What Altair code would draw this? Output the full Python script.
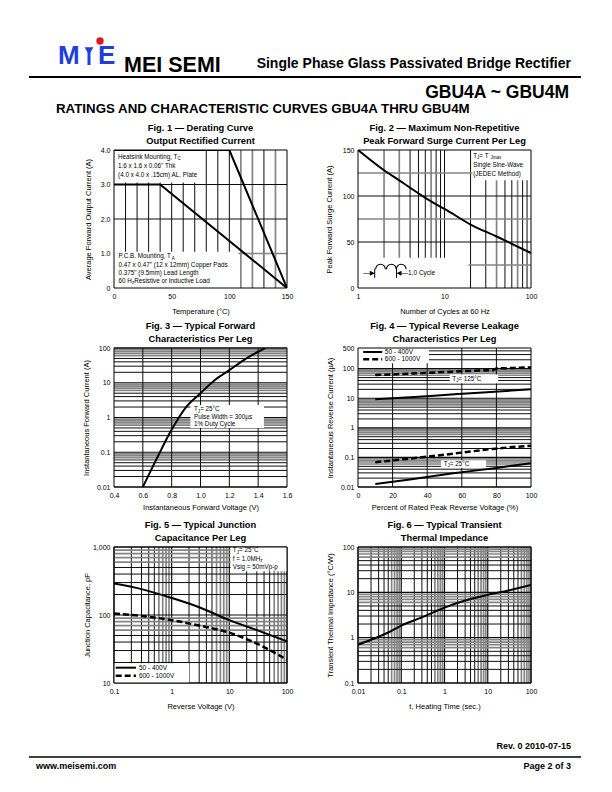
import altair as alt
import pandas as pd

FONT = "Liberation Sans, Arial, Helvetica, DejaVu Sans, sans-serif"
DARK = "#0d0d0d"
GREY = "#858585"
W_DARK = 1.0
W_GREY = 1.7
W_MAJOR = 1.2
BLUE = "#1f3fd8"
RED = "#e3161e"
ANN = 6.3

# ---------------- data ----------------
# Fig. 1 derating curve
f1_hs_temp = [0, 100, 150]
f1_hs_curr = [4.0, 4.0, 0.0]
f1_pcb_temp = [0, 40, 150]
f1_pcb_curr = [3.0, 3.0, 0.0]
f1_xlabels = [0, 50, 100, 150]
f1_ylabels = [0, 1, 2, 3, 4]
f1_vgrid_dark = [10, 20, 30, 40, 50, 60, 70, 80, 90, 100, 130]
f1_vgrid_grey = [110, 120, 140]
f1_hgrid_dark = [2, 3]
f1_hgrid_grey = [1]
f1_boxes = [(0, 78, 3.06, 4.0), (0, 108, 0, 1.05)]

# Fig. 2 surge current
f2_cycles = [1, 2, 3, 4, 6, 8, 10, 20, 40, 60, 100]
f2_surge = [150, 128, 117, 109, 98, 91, 86, 69, 56, 48, 38]
f2_xlabels = [1, 10, 100]
f2_ylabels = [0, 50, 100, 150]
f2_vgrid_dark = [4, 5, 6, 8, 9, 10, 20, 30, 50, 60, 80, 90]
f2_vgrid_grey = [2, 3, 7, 40, 70]
f2_hgrid_dark = [50, 100]
f2_hgrid_grey = [25, 75, 125]
f2_boxes = [(21, 100, 117, 150), (1, 19, 0, 33)]
f2_humps = [1.82, 2.43, 3.16]

# Fig. 3 forward characteristics
f3_volt = [0.6, 0.7, 0.8, 0.9, 1.0, 1.1, 1.2, 1.3, 1.4, 1.45]
f3_curr = [0.01, 0.07, 0.45, 2.0, 5.0, 12, 23, 45, 78, 100]
f3_xlabels = [0.4, 0.6, 0.8, 1.0, 1.2, 1.4, 1.6]
f3_ylabels = [0.01, 0.1, 1, 10, 100]
f3_vgrid_dark = [0.6, 0.8, 1.0, 1.2, 1.4]
f3_boxes = [(0.93, 1.44, 0.5, 2.3)]

# Fig. 4 reverse leakage
f4_pct_125_hi = [10, 20, 30, 40, 50, 60, 70, 78, 80, 90, 100]
f4_ir_125_hi = [61, 64, 68, 72, 77, 82, 86, 89, 102, 106, 110]
f4_pct_125_lo = [10, 40, 70, 100]
f4_ir_125_lo = [9.2, 11.8, 15.4, 20]
f4_pct_25_hi = [10, 28, 55, 78, 100]
f4_ir_25_hi = [0.069, 0.089, 0.134, 0.194, 0.25]
f4_pct_25_lo = [10, 30, 55, 80, 100]
f4_ir_25_lo = [0.0127, 0.018, 0.029, 0.044, 0.064]
f4_xlabels = [0, 20, 40, 60, 80, 100]
f4_ylabels = [0.01, 0.1, 1, 10, 100, 500]
f4_vgrid_dark = [20, 40, 60, 80]
f4_boxes = [(0, 41, 152, 500), (53, 81, 32, 64), (48, 74, 0.045, 0.08)]

# Fig. 5 junction capacitance
f5_volt = [0.1, 0.3, 1, 3, 10, 30, 100]
f5_cap_lo = [290, 240, 178, 130, 84, 60, 41]
f5_cap_hi = [105, 97, 84, 70, 55, 38, 22]
f5_xlabels = [0.1, 1, 10, 100]
f5_ylabels = [10, 100, 1000]
f5_boxes = [(10.5, 100, 440, 1000), (0.1, 2.0, 10, 19.5)]

# Fig. 6 transient thermal impedance
f6_time = [0.01, 0.02, 0.05, 0.1, 0.3, 1, 3, 10, 30, 100]
f6_zth = [0.7, 0.9, 1.3, 1.85, 2.8, 4.6, 6.6, 8.8, 11, 14.5]
f6_xlabels = [0.01, 0.1, 1, 10, 100]
f6_ylabels = [0.1, 1, 10, 100]

MINOR_DARK = [2, 3, 4, 5]
MINOR_GREY = [6, 7, 8, 9]

W = 173
H1, H2, H3 = 138, 139, 136

# Arial / Liberation Sans advance widths (per 1000 em)
CW = {" ": 278, "!": 278, '"': 355, "%": 889, "(": 333, ")": 333, ".": 278, ",": 278,
      "-": 333, "=": 584, "~": 584, "°": 400, "µ": 576, "/": 278}
for c in "0123456789":
    CW[c] = 556
CW.update(dict(zip("ABCDEFGHIJKLMNOPQRSTUVWXYZ",
                   [667, 667, 722, 722, 667, 611, 778, 722, 278, 500, 667, 556, 833,
                    722, 778, 667, 778, 722, 667, 611, 722, 667, 944, 667, 667, 611])))
CW.update(dict(zip("abcdefghijklmnopqrstuvwxyz",
                   [556, 556, 500, 556, 556, 278, 556, 556, 222, 222, 500, 222, 833,
                    556, 556, 556, 556, 333, 500, 278, 556, 500, 722, 500, 500, 500])))


def tw(s, size):
    return sum(CW.get(c, 556) for c in s) * size / 1000.0


def minors(e0, e1, ks, top=None):
    out = [k * 10.0 ** e for e in range(e0, e1) for k in ks]
    if top is not None:
        out = [v for v in out if v < top]
    return out


def decades(e0, e1):
    return [10.0 ** e for e in range(e0, e1 + 1)]


class Frame:
    """Scales and axes shared by every layer of one panel."""

    def __init__(self, xs, ys, xaxis, yaxis):
        self.xs, self.ys, self.xaxis, self.yaxis = xs, ys, xaxis, yaxis

    def X(self, field):
        return alt.X(field, scale=self.xs, axis=self.xaxis)

    def Y(self, field):
        return alt.Y(field, scale=self.ys, axis=self.yaxis)


def vrule(vals, f, color, width):
    return alt.Chart(pd.DataFrame({"v": vals})).mark_rule(color=color, strokeWidth=width).encode(
        x=f.X("v:Q"))


def hrule(vals, f, color, width):
    return alt.Chart(pd.DataFrame({"v": vals})).mark_rule(color=color, strokeWidth=width).encode(
        y=f.Y("v:Q"))


def rects(rows, f):
    df = pd.DataFrame(rows, columns=["x1", "x2", "y1", "y2"])
    return alt.Chart(df).mark_rect(color="white", opacity=1).encode(
        x=f.X("x1:Q"), x2="x2:Q", y=f.Y("y1:Q"), y2="y2:Q")


def curve(xv, yv, f, dash=None, width=2.0, interp="monotone"):
    kw = dict(color="black", strokeWidth=width, clip=True, interpolate=interp)
    if dash is not None:
        kw["strokeDash"] = dash
    return alt.Chart(pd.DataFrame({"x": xv, "y": yv})).mark_line(**kw).encode(
        x=f.X("x:Q"), y=f.Y("y:Q"))


def seg(x1, x2, y, f, dash=None, width=2.0):
    kw = dict(color="black", strokeWidth=width)
    if dash is not None:
        kw["strokeDash"] = dash
    return alt.Chart(pd.DataFrame({"x1": [x1], "x2": [x2], "y": [y]})).mark_rule(**kw).encode(
        x=f.X("x1:Q"), x2="x2:Q", y=f.Y("y:Q"))


def vseg(x, y1, y2, f, width=1.0):
    return alt.Chart(pd.DataFrame({"x": [x], "y1": [y1], "y2": [y2]})).mark_rule(
        color="black", strokeWidth=width).encode(x=f.X("x:Q"), y=f.Y("y1:Q"), y2="y2:Q")


def rich(f, x, y, segs, size=ANN, align="left"):
    out = []
    dx = 0.0
    df = pd.DataFrame({"x": [x], "y": [y]})
    for t, sub in segs:
        fs = size * 0.72 if sub else size
        dy = size * 0.38 if sub else 0
        out.append(alt.Chart(df).mark_text(text=t, fontSize=fs, dx=dx, dy=dy, align=align,
                                           baseline="middle", font=FONT, color="black").encode(
            x=f.X("x:Q"), y=f.Y("y:Q")))
        dx += tw(t, fs)
    return out


def ax_x(values, title, expr, title_y=23):
    return alt.Axis(values=values, title=title, labelExpr=expr, titleY=title_y,
                    titleBaseline="middle", labelFlush=False, labelOverlap=False, grid=False,
                    ticks=False, domain=False, labelPadding=4, labelFontSize=7,
                    titleFontSize=7.5, titleFontWeight="normal", labelColor="black",
                    titleColor="black", labelFont=FONT, titleFont=FONT)


def ax_y(values, title, expr, title_x, h):
    return alt.Axis(values=values, title=title, labelExpr=expr, titleX=title_x, titleY=h / 2,
                    titleBaseline="middle", titleAlign="center", labelFlush=False,
                    labelOverlap=False, grid=False, ticks=False, domain=False, labelPadding=4,
                    labelFontSize=7, titleFontSize=7.5, titleFontWeight="normal",
                    labelColor="black", titleColor="black", labelFont=FONT, titleFont=FONT)


def border(f, xdom, ydom):
    return [vrule(xdom, f, "black", 1.0), hrule(ydom, f, "black", 1.0)]


def ttl(l1, l2):
    return alt.TitleParams(text=[l1, l2], font=FONT, fontSize=9.3, fontWeight="bold",
                           color="black", anchor="middle", offset=0, lineHeight=12.5)


def lin(dom):
    return alt.Scale(type="linear", domain=dom, nice=False, zero=False)


def logs(dom):
    return alt.Scale(type="log", domain=dom, nice=False)


LBL = "'' + datum.value"
DASH = [6, 3]

# ---------------- Fig. 1 ----------------
d1x, d1y = [0, 150], [0, 4]
F1 = Frame(lin(d1x), lin(d1y),
           ax_x(f1_xlabels, "Temperature (°C)", LBL),
           ax_y(f1_ylabels, "Average Forward Output Current (A)",
                "datum.value == 0 ? '0' : format(datum.value, '.1f')", -26, H1))
p1 = alt.layer(
    vrule(f1_vgrid_grey, F1, GREY, W_GREY),
    vrule(f1_vgrid_dark, F1, DARK, W_DARK),
    hrule(f1_hgrid_grey, F1, GREY, W_GREY),
    hrule(f1_hgrid_dark, F1, DARK, W_DARK),
    rects(f1_boxes, F1),
    curve(f1_hs_temp, f1_hs_curr, F1, interp="linear"),
    curve(f1_pcb_temp, f1_pcb_curr, F1, interp="linear"),
    *rich(F1, 3.5, 3.80, [("Heatsink Mounting, T", 0), ("C", 1)]),
    *rich(F1, 3.5, 3.54, [('1.6 x 1.6 x 0.06" Thk', 0)]),
    *rich(F1, 3.5, 3.28, [("(4.0 x 4.0 x .15cm) AL. Plate", 0)]),
    *rich(F1, 4, 0.92, [("P.C.B. Mounting, T", 0), ("A", 1)]),
    *rich(F1, 4, 0.66, [('0.47 x 0.47" (12 x 12mm) Copper Pads', 0)]),
    *rich(F1, 4, 0.43, [('0.375" (9.5mm) Lead Length', 0)]),
    *rich(F1, 4, 0.20, [("60 H", 0), ("z", 1), (" Resistive or Inductive Load", 0)]),
    *border(F1, d1x, d1y),
).properties(width=W, height=H1, title=ttl("Fig. 1 — Derating Curve", "Output Rectified Current"))

# ---------------- Fig. 2 ----------------
d2x, d2y = [1, 100], [0, 150]
F2 = Frame(logs(d2x), lin(d2y),
           ax_x(f2_xlabels, "Number of Cycles at 60 Hz", LBL),
           ax_y(f2_ylabels, "Peak Forward Surge Current (A)", LBL, -29, H1))
hump_df = pd.DataFrame({"x": f2_humps, "y": [20.5] * len(f2_humps)})
humps = alt.Chart(hump_df).mark_arc(color="black").encode(
    x=F2.X("x:Q"), y=F2.Y("y:Q"),
    theta=alt.value(4.712), theta2=alt.value(7.854),
    radius=alt.value(5.4), radius2=alt.value(4.3))
p2 = alt.layer(
    vrule(f2_vgrid_grey, F2, GREY, W_GREY),
    vrule(f2_vgrid_dark, F2, DARK, W_DARK),
    hrule(f2_hgrid_grey, F2, GREY, W_GREY),
    hrule(f2_hgrid_dark, F2, DARK, W_DARK),
    rects(f2_boxes, F2),
    curve(f2_cycles, f2_surge, F2),
    *rich(F2, 21.5, 144, [("T", 0), ("J", 1), (" = T", 0), ("Jmax", 1)]),
    *rich(F2, 21.5, 134, [("Single Sine-Wave", 0)]),
    *rich(F2, 21.5, 124, [("(JEDEC Method)", 0)]),
    humps,
    vseg(1.56, 11, 21, F2),
    vseg(2.79, 11, 21, F2),
    *rich(F2, 1.56, 16, [("—▶", 0)], size=6.5, align="right"),
    *rich(F2, 2.79, 16, [("◀—1.0 Cycle", 0)], size=6.5),
    *border(F2, d2x, d2y),
).properties(width=W, height=H1,
             title=ttl("Fig. 2 — Maximum Non-Repetitive", "Peak Forward Surge Current Per Leg"))

# ---------------- Fig. 3 ----------------
d3x, d3y = [0.4, 1.6], [0.01, 100]
F3 = Frame(lin(d3x), logs(d3y),
           ax_x(f3_xlabels, "Instantaneous Forward Voltage (V)", "format(datum.value, '.1f')", 20),
           ax_y(f3_ylabels, "Instantaneous Forward Current (A)", LBL, -28, H2))
p3 = alt.layer(
    hrule(minors(-2, 2, MINOR_GREY), F3, GREY, W_GREY),
    hrule(minors(-2, 2, MINOR_DARK), F3, DARK, W_DARK),
    hrule(decades(-2, 2), F3, DARK, W_MAJOR),
    vrule(f3_vgrid_dark, F3, DARK, W_DARK),
    rects(f3_boxes, F3),
    curve(f3_volt, f3_curr, F3),
    *rich(F3, 0.955, 1.72, [("T", 0), ("J", 1), (" = 25°C", 0)]),
    *rich(F3, 0.955, 1.05, [("Pulse Width = 300µs", 0)]),
    *rich(F3, 0.955, 0.65, [("1% Duty Cycle", 0)]),
    *border(F3, d3x, d3y),
).properties(width=W, height=H2, title=ttl("Fig. 3 — Typical Forward", "Characteristics Per Leg"))

# ---------------- Fig. 4 ----------------
d4x, d4y = [0, 100], [0.01, 500]
F4 = Frame(lin(d4x), logs(d4y),
           ax_x(f4_xlabels, "Percent of Rated Peak Reverse Voltage (%)", LBL, 20),
           ax_y(f4_ylabels, "Instantaneous Reverse Current (µA)", LBL, -28, H2))
p4 = alt.layer(
    hrule(minors(-2, 3, MINOR_GREY, top=500), F4, GREY, W_GREY),
    hrule(minors(-2, 3, MINOR_DARK, top=500), F4, DARK, W_DARK),
    hrule(decades(-2, 2), F4, DARK, W_MAJOR),
    vrule(f4_vgrid_dark, F4, DARK, W_DARK),
    rects(f4_boxes, F4),
    curve(f4_pct_125_hi, f4_ir_125_hi, F4, dash=DASH, width=2.5, interp="linear"),
    curve(f4_pct_125_lo, f4_ir_125_lo, F4),
    curve(f4_pct_25_hi, f4_ir_25_hi, F4, dash=DASH, width=2.5),
    curve(f4_pct_25_lo, f4_ir_25_lo, F4),
    seg(3, 14, 366, F4),
    seg(3, 14, 207, F4, dash=DASH, width=2.5),
    *rich(F4, 15.5, 366, [("50 - 400V", 0)], size=6.5),
    *rich(F4, 15.5, 207, [("600 - 1000V", 0)], size=6.5),
    *rich(F4, 54.5, 45, [("T", 0), ("J", 1), (" = 125°C", 0)]),
    *rich(F4, 49.5, 0.06, [("T", 0), ("J", 1), (" = 25°C", 0)]),
    *border(F4, d4x, d4y),
).properties(width=W, height=H2,
             title=ttl("Fig. 4 — Typical Reverse Leakage", "Characteristics Per Leg"))

# ---------------- Fig. 5 ----------------
d5x, d5y = [0.1, 100], [10, 1000]
F5 = Frame(logs(d5x), logs(d5y),
           ax_x(f5_xlabels, "Reverse Voltage (V)", LBL),
           ax_y(f5_ylabels, "Junction Capacitance, pF", "format(datum.value, ',')", -27, H3))
p5 = alt.layer(
    vrule(minors(-1, 2, MINOR_GREY), F5, GREY, W_GREY),
    vrule(minors(-1, 2, MINOR_DARK), F5, DARK, W_DARK),
    vrule(decades(-1, 2), F5, DARK, W_MAJOR),
    hrule(minors(1, 3, MINOR_GREY), F5, GREY, W_GREY),
    hrule(minors(1, 3, MINOR_DARK), F5, DARK, W_DARK),
    hrule(decades(1, 3), F5, DARK, W_MAJOR),
    rects(f5_boxes, F5),
    curve(f5_volt, f5_cap_lo, F5),
    curve(f5_volt, f5_cap_hi, F5, dash=DASH, width=2.5),
    *rich(F5, 11.5, 900, [("T", 0), ("J", 1), (" = 25°C", 0)]),
    *rich(F5, 11.5, 665, [("f = 1.0MH", 0), ("z", 1)]),
    *rich(F5, 11.5, 500, [("Vsig = 50mVp-p", 0)]),
    seg(0.107, 0.24, 16.8, F5),
    seg(0.107, 0.24, 12.8, F5, dash=DASH, width=2.5),
    *rich(F5, 0.27, 16.8, [("50 - 400V", 0)], size=6.5),
    *rich(F5, 0.27, 12.8, [("600 - 1000V", 0)], size=6.5),
    *border(F5, d5x, d5y),
).properties(width=W, height=H3, title=ttl("Fig. 5 — Typical Junction", "Capacitance Per Leg"))

# ---------------- Fig. 6 ----------------
d6x, d6y = [0.01, 100], [0.1, 100]
F6 = Frame(logs(d6x), logs(d6y),
           ax_x(f6_xlabels, "t, Heating Time (sec.)", LBL),
           ax_y(f6_ylabels, "Transient Thermal Impedance (°C/W)", LBL, -28, H3))
p6 = alt.layer(
    vrule(minors(-2, 2, MINOR_GREY), F6, GREY, W_GREY),
    vrule(minors(-2, 2, MINOR_DARK), F6, DARK, W_DARK),
    vrule(decades(-2, 2), F6, DARK, W_MAJOR),
    hrule(minors(-1, 2, MINOR_GREY), F6, GREY, W_GREY),
    hrule(minors(-1, 2, MINOR_DARK), F6, DARK, W_DARK),
    hrule(decades(-1, 2), F6, DARK, W_MAJOR),
    curve(f6_time, f6_zth, F6),
    *border(F6, d6x, d6y),
).properties(width=W, height=H3, title=ttl("Fig. 6 — Typical Transient", "Thermal Impedance"))

# ---------------- header / footer ----------------
ONE = pd.DataFrame({"a": [0]})


def ptext(text, x, y, size, weight="bold", align="left", color="black"):
    return alt.Chart(ONE).mark_text(text=text, fontSize=size, fontWeight=weight, align=align,
                                    baseline="middle", font=FONT, color=color).encode(
        x=alt.value(x), y=alt.value(y))


def prule(x1, x2, y, width, color="black"):
    return alt.Chart(ONE).mark_rule(color=color, strokeWidth=width).encode(
        x=alt.value(x1), x2=alt.value(x2), y=alt.value(y))


HH = 54
hdr_left = alt.layer(
    ptext("M", -56, 20, 26, color=BLUE),
    alt.Chart(ONE).mark_point(shape="triangle-down", filled=True, size=80, color=BLUE,
                              opacity=1).encode(x=alt.value(-25), y=alt.value(15)),
    alt.Chart(ONE).mark_rule(color=BLUE, strokeWidth=3).encode(
        x=alt.value(-25), y=alt.value(15), y2=alt.value(29)),
    ptext("E", -16, 20, 26, color=BLUE),
    alt.Chart(ONE).mark_circle(size=55, color=RED, opacity=1).encode(
        x=alt.value(-14), y=alt.value(5)),
    ptext("MEI SEMI", 10, 30, 21.5),
    prule(-85, 467, 41, 2),
    ptext("RATINGS AND CHARACTERISTIC CURVES GBU4A THRU GBU4M", -58, 73, 13.3),
).properties(width=W, height=HH)

hdr_right = alt.layer(
    ptext("Single Phase Glass Passivated Bridge Rectifier", 213, 28, 14, align="right"),
    ptext("GBU4A ~ GBU4M", 211, 57, 17.5, align="right"),
).properties(width=W, height=HH)

FH = 20
ftr_left = alt.layer(
    ptext("www.meisemi.com", -78, 23, 9),
    prule(-85, 467, 14, 1.5),
).properties(width=W, height=FH)

ftr_right = alt.layer(
    ptext("Rev. 0  2010-07-15", 213, 3, 9, align="right"),
    ptext("Page 2 of 3", 213, 23, 9, align="right"),
).properties(width=W, height=FH)

chart = alt.concat(
    hdr_left, hdr_right, p1, p2, p3, p4, p5, p6, ftr_left, ftr_right,
    columns=2, spacing={"row": 60, "column": 71}, bounds="flush", align="each",
).properties(
    padding={"left": 20, "top": 28, "right": 10, "bottom": 10},
    background="white",
).configure_view(stroke="transparent", strokeWidth=0)

chart.save("out.html", embed_options={"renderer": "svg", "actions": False})
